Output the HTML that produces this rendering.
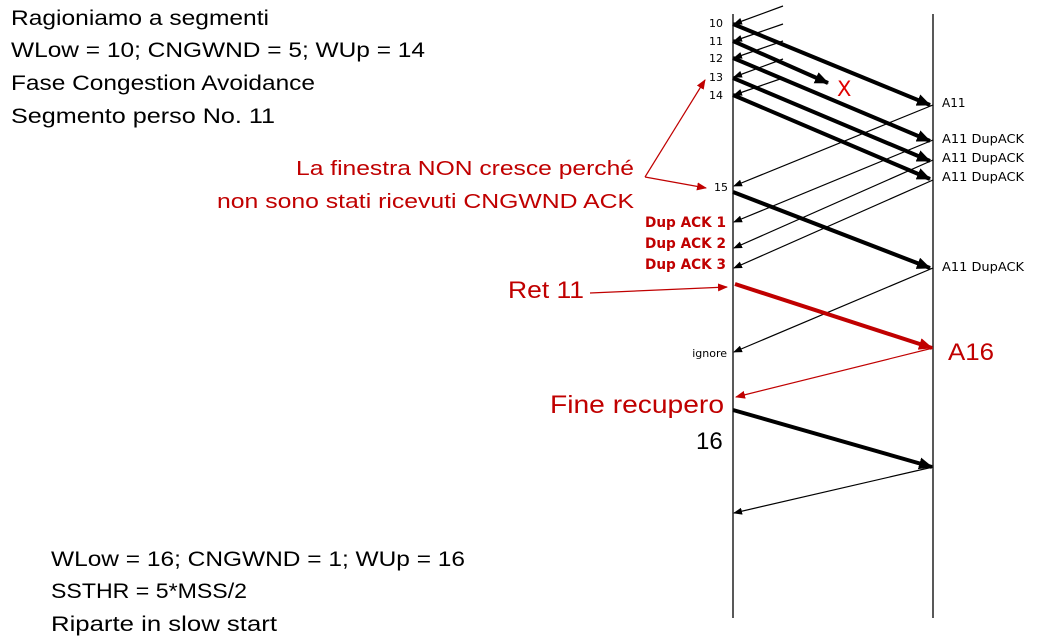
<!DOCTYPE html>
<html><head><meta charset="utf-8"><style>
html,body{margin:0;padding:0;background:#fff;}
svg{display:block;font-family:"DejaVu Sans","Liberation Sans",sans-serif;}
</style></head><body>
<svg width="1037" height="642" viewBox="0 0 1037 642" xmlns="http://www.w3.org/2000/svg">
<defs>
<marker id="ab" markerWidth="14" markerHeight="12" refX="13" refY="6" orient="auto" markerUnits="userSpaceOnUse"><path d="M0,0 L14,6 L0,12 z" fill="#000"/></marker>
<marker id="at" markerWidth="9" markerHeight="7" refX="8" refY="3.5" orient="auto" markerUnits="userSpaceOnUse"><path d="M0,0 L9,3.5 L0,7 z" fill="#000"/></marker>
<marker id="ar" markerWidth="14" markerHeight="12" refX="13" refY="6" orient="auto" markerUnits="userSpaceOnUse"><path d="M0,0 L14,6 L0,12 z" fill="#c00000"/></marker>
<marker id="art" markerWidth="10" markerHeight="8" refX="9" refY="4" orient="auto" markerUnits="userSpaceOnUse"><path d="M0,0 L10,4 L0,8 z" fill="#c00000"/></marker>
</defs>
<line x1="733" y1="14" x2="733" y2="618" stroke="#222" stroke-width="1.5"/>
<line x1="933" y1="14" x2="933" y2="618" stroke="#222" stroke-width="1.5"/>
<g stroke="#000" stroke-width="1.2" marker-end="url(#at)">
<line x1="783" y1="6" x2="734" y2="24"/>
<line x1="783" y1="24" x2="734" y2="41"/>
<line x1="783" y1="41" x2="734" y2="58"/>
<line x1="783" y1="59" x2="734" y2="77"/>
<line x1="783" y1="78" x2="734" y2="95"/>
<line x1="933" y1="105" x2="734" y2="186"/>
<line x1="933" y1="140" x2="734" y2="222"/>
<line x1="933" y1="160" x2="734" y2="248"/>
<line x1="933" y1="180" x2="734" y2="268"/>
<line x1="933" y1="268" x2="734" y2="352"/>
<line x1="933" y1="467" x2="734" y2="513"/>
</g>
<g stroke="#000" stroke-width="4" marker-end="url(#ab)">
<line x1="733" y1="24" x2="930" y2="105"/>
<line x1="733" y1="41" x2="828" y2="83"/>
<line x1="733" y1="58" x2="930" y2="141"/>
<line x1="733" y1="78" x2="930" y2="161"/>
<line x1="733" y1="95" x2="930" y2="179"/>
<line x1="733" y1="192" x2="930" y2="268"/>
<line x1="733" y1="410" x2="932" y2="467"/>
</g>
<line x1="735" y1="284" x2="932" y2="348" stroke="#c00000" stroke-width="4" marker-end="url(#ar)"/>
<g stroke="#c00000" stroke-width="1.2" marker-end="url(#art)">
<line x1="933" y1="348" x2="736" y2="397"/>
<line x1="645" y1="177" x2="705" y2="80"/>
<line x1="645" y1="177" x2="706" y2="188"/>
<line x1="590" y1="293" x2="727" y2="287"/>
</g>
<g font-size="11" fill="#000" text-anchor="end">
<text x="723" y="27">10</text><text x="723" y="45">11</text><text x="723" y="62">12</text>
<text x="723" y="81">13</text><text x="723" y="99">14</text><text x="728" y="191">15</text>
<text x="727" y="357">ignore</text>
</g>
<g font-size="12" fill="#000">
<text x="942" y="107">A11</text>
<text x="942" y="143" textLength="82" lengthAdjust="spacingAndGlyphs">A11 DupACK</text>
<text x="942" y="162" textLength="82" lengthAdjust="spacingAndGlyphs">A11 DupACK</text>
<text x="942" y="181" textLength="82" lengthAdjust="spacingAndGlyphs">A11 DupACK</text>
<text x="942" y="271" textLength="82" lengthAdjust="spacingAndGlyphs">A11 DupACK</text>
</g>
<g font-size="14" font-weight="bold" fill="#c00000">
<text x="645" y="227" textLength="81" lengthAdjust="spacingAndGlyphs">Dup ACK 1</text>
<text x="645" y="248" textLength="81" lengthAdjust="spacingAndGlyphs">Dup ACK 2</text>
<text x="645" y="269" textLength="81" lengthAdjust="spacingAndGlyphs">Dup ACK 3</text>
</g>
<text x="837" y="96" font-size="21" fill="#e00000">X</text>
<g font-size="21" fill="#000" font-family="Liberation Sans, sans-serif">
<text x="11" y="25" textLength="258" lengthAdjust="spacingAndGlyphs">Ragioniamo a segmenti</text>
<text x="11" y="57" textLength="414" lengthAdjust="spacingAndGlyphs">WLow = 10; CNGWND = 5; WUp = 14</text>
<text x="11" y="90" textLength="304" lengthAdjust="spacingAndGlyphs">Fase Congestion Avoidance</text>
<text x="11" y="123" textLength="264" lengthAdjust="spacingAndGlyphs">Segmento perso No. 11</text>
<text x="51" y="566" textLength="414" lengthAdjust="spacingAndGlyphs">WLow = 16; CNGWND = 1; WUp = 16</text>
<text x="51" y="598" textLength="196" lengthAdjust="spacingAndGlyphs">SSTHR = 5*MSS/2</text>
<text x="51" y="631" textLength="226" lengthAdjust="spacingAndGlyphs">Riparte in slow start</text>
</g>
<g font-size="20" fill="#c00000" font-family="Liberation Sans, sans-serif">
<text x="296" y="175" textLength="338" lengthAdjust="spacingAndGlyphs">La finestra NON cresce perché</text>
<text x="217" y="208" textLength="417" lengthAdjust="spacingAndGlyphs">non sono stati ricevuti CNGWND ACK</text>
</g>
<g font-family="Liberation Sans, sans-serif">
<text x="508" y="298" font-size="24" fill="#c00000" textLength="76" lengthAdjust="spacingAndGlyphs">Ret 11</text>
<text x="550" y="413" font-size="25" fill="#c00000" textLength="174" lengthAdjust="spacingAndGlyphs">Fine recupero</text>
<text x="696" y="449" font-size="24" fill="#000">16</text>
<text x="948" y="360" font-size="24" fill="#c00000" textLength="46" lengthAdjust="spacingAndGlyphs">A16</text>
</g>
</svg>
</body></html>
